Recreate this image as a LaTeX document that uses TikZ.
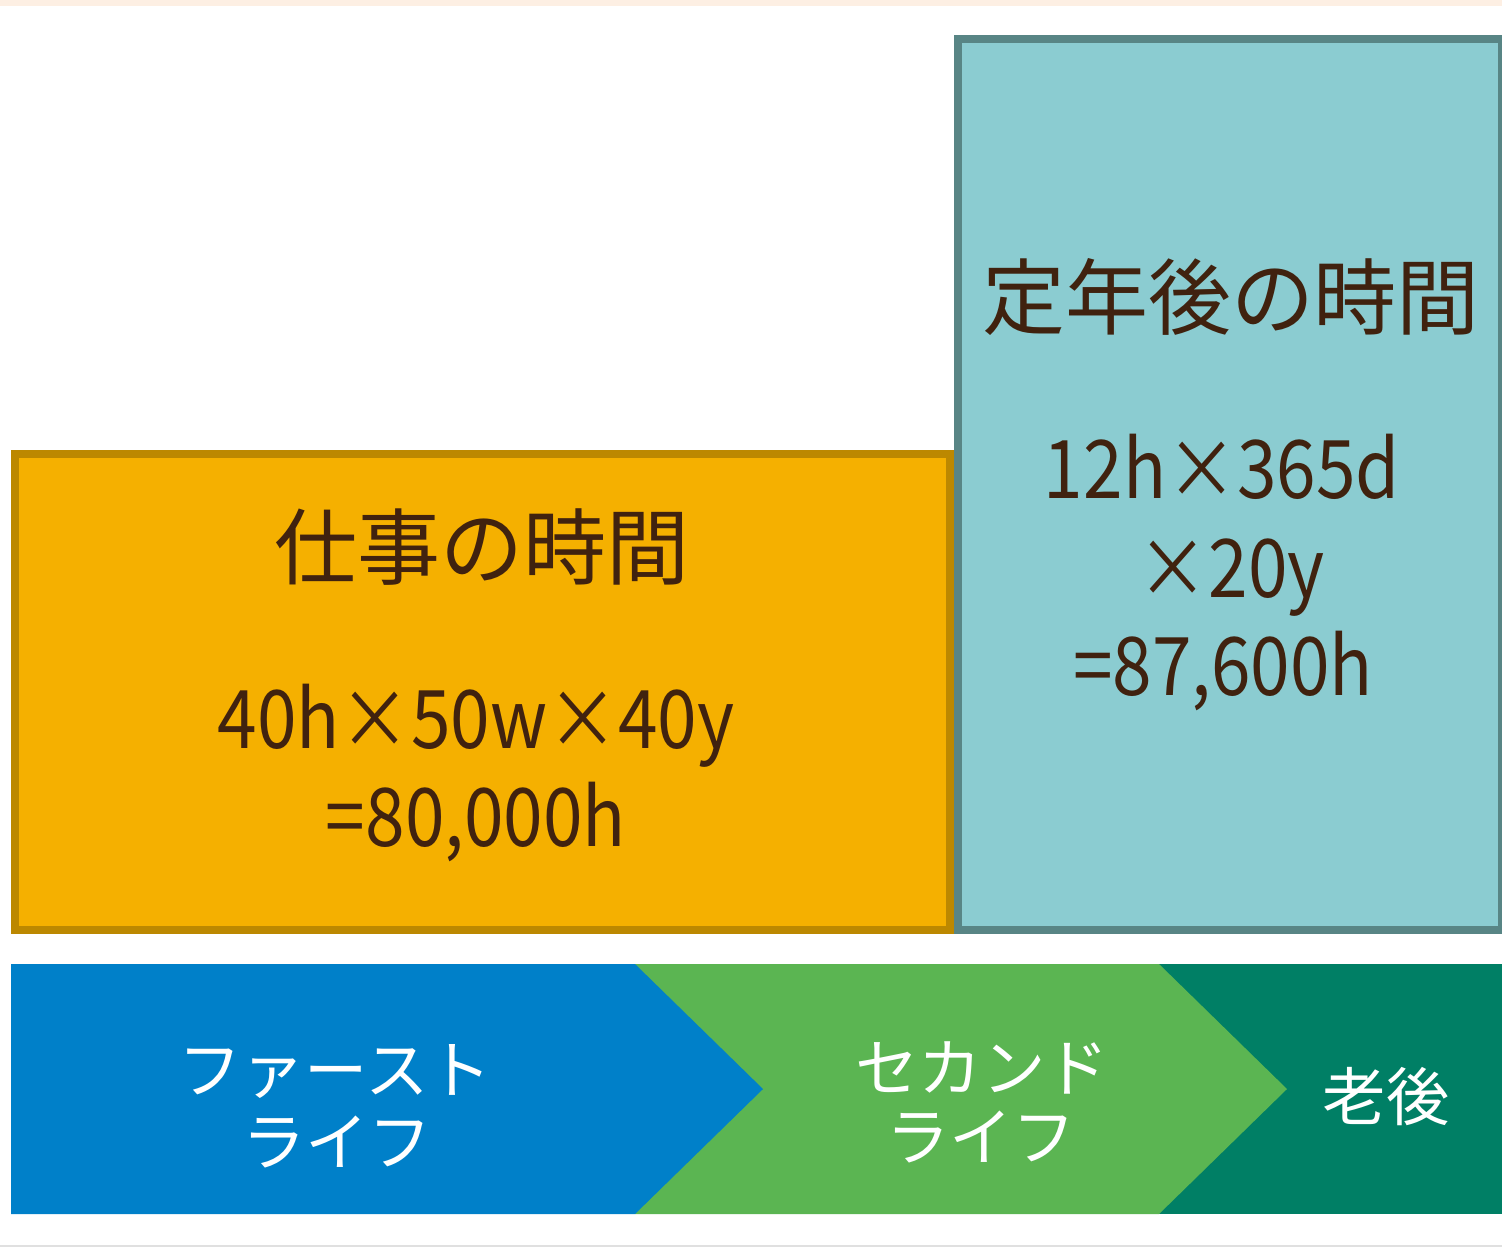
\documentclass[tikz,border=0pt]{standalone}
\usepackage{fontspec}
\usepackage{graphicx}
\setmainfont{Noto Sans CJK JP}
\definecolor{peach}{HTML}{FDEFE3}
\definecolor{ofill}{HTML}{F5B000}
\definecolor{oline}{HTML}{BC8800}
\definecolor{tfill}{HTML}{8BCCD1}
\definecolor{tline}{HTML}{588585}
\definecolor{bblue}{HTML}{0080C9}
\definecolor{bgreen}{HTML}{5BB552}
\definecolor{dgreen}{HTML}{007F65}
\definecolor{brown}{HTML}{40220F}
\definecolor{lgrey}{HTML}{E0E0E0}
\newcommand{\narrowtext}[1]{\scalebox{0.88}[1]{#1}}
\tikzset{
  box/.style={rectangle, inner sep=0pt, outer sep=0pt, line width=0.08cm},
  title/.style={anchor=base, inner sep=0pt, text=brown, font=\fontsize{23.6}{28}\selectfont},
  formula/.style={anchor=base, inner sep=0pt, text=brown, font=\fontsize{23}{28}\selectfont},
  band/.style={anchor=base, inner sep=0pt, text=white, font=\fontsize{18}{20}\selectfont},
}
\begin{document}
\begin{tikzpicture}[x=0.01cm, y=-0.01cm]
\useasboundingbox (0,0) rectangle (1502,1247);
\begin{scope}
\clip (0,0) rectangle (1502,1247);
\fill[peach] (0,0) rectangle (1502,6);
\fill[lgrey] (0,1245) rectangle (1502,1247);
% boxes
\node[box, draw=oline, fill=ofill, minimum width=9.35cm, minimum height=4.76cm] (work) at (482.5,692) {};
\node[box, draw=tline, fill=tfill, minimum width=5.44cm, minimum height=8.91cm] (retire) at (1230,484.5) {};
% band
\fill[dgreen] (1159,964) -- (1502,964) -- (1502,1214) -- (1159,1214) -- cycle;
\fill[bgreen] (635,964) -- (1159,964) -- (1287,1089) -- (1159,1214) -- (635,1214) -- cycle;
\fill[bblue] (11,964) -- (635,964) -- (763,1089) -- (635,1214) -- (11,1214) -- cycle;
\end{scope}
% texts
\node[title] (worktitle) at (482,578) {仕事の時間};
\node[formula] (workf1) at (476,748) {\narrowtext{40h×50w×40y}};
\node[formula] (workf2) at (476,846) {\narrowtext{=80,000h}};
\node[title] (rettitle) at (1231,328) {定年後の時間};
\node[formula] (retf1) at (1222,498) {\narrowtext{12h×365d}};
\node[formula] (retf2) at (1231,597) {\narrowtext{×20y}};
\node[formula] (retf3) at (1223,695) {\narrowtext{=87,600h}};
\node[band] (first1) at (335,1093) {ファースト};
\node[band] (first2) at (337,1165) {ライフ};
\node[band] (second1) at (982,1091) {セカンド};
\node[band] (second2) at (981,1160) {ライフ};
\node[band] (old) at (1386,1120) {老後};
\end{tikzpicture}
\end{document}
